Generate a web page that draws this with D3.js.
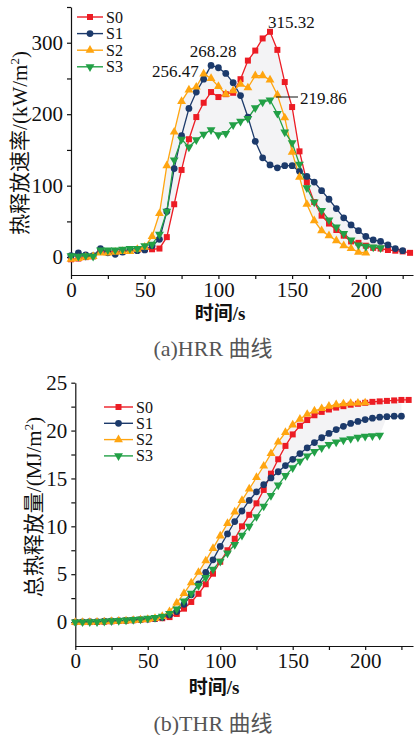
<!DOCTYPE html>
<html>
<head>
<meta charset="utf-8">
<script src="https://cdn.jsdelivr.net/npm/d3@7"></script>
<style>
  html, body { margin: 0; padding: 0; background: #fff; }
  svg { display: block; }
  .tick text { font-family: "Liberation Serif", "Times New Roman", serif; font-size: 21px; fill: #111; }
  .tick line, .domain { stroke: #111; stroke-width: 1.2px; }
  .series { fill: none; stroke-width: 1.3px; }
</style>
</head>
<body>
<svg id="chart" width="414" height="735"></svg>
<script>
// sample interval of both tests (s)
const stepSec = 5

const seriesNames = ['S0', 'S1', 'S2', 'S3']
const seriesColors = ['#ec1c24', '#1c3a6b', '#ffa510', '#22a046']

// heat release rate, kW/m2, one value every 5 s from t = 0
const hrrS0 = [-3, -2, 0, 1, 9, 8, 7, 8, 9, 10, 11, 11, 12, 28, 74, 122, 165, 196, 216, 231, 224, 228, 230, 249, 275, 289, 306, 315.32, 290, 245, 210, 148, 105, 77, 58, 47, 38, 30, 22, 20, 16, 13, 12, 10, 9, 8, 6]
const hrrS1 = [2, 6, 3, 2, 12, 6, 4, 7, 9, 9, 10, 16, 25, 64, 124, 170, 208, 231, 249, 268.28, 265, 257, 244, 226, 196, 162, 139, 129, 125, 128, 128, 120, 113, 105, 93, 81, 68, 55, 45, 37, 29, 24, 22, 17, 12, 9]
const hrrS2 = [-3, -2, 0, 1, 6, 6, 7, 8, 8, 11, 14, 29, 61, 128, 175, 218, 234, 238, 256.47, 250, 239, 228, 233, 242, 237, 254, 254, 248, 227, 195, 147, 112, 74, 51, 37, 30, 23, 16, 12, 7, 6]
const hrrS3 = [2, 1, 2, 1, 10, 10, 10, 11, 12, 12, 16, 18, 32, 64, 136, 165, 154, 164, 172, 178, 171, 173, 185, 190, 194, 209, 217, 219.86, 201, 175, 160, 130, 97, 77, 65, 52, 42, 33, 24, 17, 15, 14, 13]

// total heat release, MJ/m2
const thrS0 = [0, 0, 0, 0.01, 0.04, 0.08, 0.11, 0.15, 0.19, 0.24, 0.29, 0.34, 0.4, 0.52, 0.85, 1.4, 2.1, 2.95, 3.95, 5.05, 6.3, 7.5, 8.7, 10.0, 11.2, 12.4, 13.8, 15.5, 17.0, 18.4, 19.6, 20.5, 21.1, 21.6, 21.95, 22.2, 22.4, 22.55, 22.7, 22.8, 22.9, 23.0, 23.05, 23.1, 23.15, 23.2, 23.2]
const thrS1 = [0, 0.02, 0.04, 0.05, 0.09, 0.12, 0.14, 0.17, 0.22, 0.26, 0.31, 0.38, 0.48, 0.75, 1.1, 1.85, 2.85, 4.0, 5.2, 6.5, 7.9, 9.2, 10.5, 11.6, 12.7, 13.6, 14.35, 15.05, 15.7, 16.35, 17.0, 17.6, 18.2, 18.75, 19.25, 19.7, 20.1, 20.45, 20.75, 20.95, 21.15, 21.3, 21.4, 21.45, 21.5, 21.5]
const thrS2 = [-0.02, -0.03, -0.02, 0, 0.03, 0.06, 0.1, 0.13, 0.17, 0.22, 0.28, 0.38, 0.6, 1.1, 2.0, 3.0, 4.1, 5.2, 6.4, 7.7, 9.0, 10.3, 11.5, 12.7, 13.9, 15.1, 16.3, 17.6, 18.8, 19.8, 20.6, 21.2, 21.7, 22.05, 22.3, 22.55, 22.7, 22.8, 22.85, 22.88, 22.9]
const thrS3 = [0.01, 0.01, 0.02, 0.03, 0.07, 0.12, 0.16, 0.2, 0.25, 0.31, 0.38, 0.46, 0.6, 0.9, 1.35, 2.2, 3.0, 3.8, 4.65, 5.5, 6.35, 7.2, 8.1, 9.05, 10.0, 11.0, 12.1, 13.2, 14.3, 15.3, 16.1, 16.8, 17.35, 17.8, 18.2, 18.55, 18.8, 19.0, 19.15, 19.3, 19.4, 19.45, 19.5]

// tick labels
const timeTicks = [0, 50, 100, 150, 200]
const hrrTicks = [0, 100, 200, 300]
const thrTicks = [0, 5, 10, 15, 20, 25]

// peak labels on the HRR plot: [series index, value]
const hrrPeaks = [[0, 315.32], [1, 268.28], [2, 256.47], [3, 219.86]]

const svg = d3.select('#chart')
svg.append('rect').attr('width', 414).attr('height', 735).attr('fill', '#fff')

const serif = '"Liberation Serif", "Times New Roman", "Noto Sans CJK SC", serif'

const symbolFor = i => {
  if (i === 0) return d3.symbol(d3.symbolSquare, 36)
  if (i === 1) return d3.symbol(d3.symbolCircle, 36)
  return d3.symbol(d3.symbolTriangle, 34)
}
// S3 uses a downward triangle
const markTransform = (i, px, py) =>
  'translate(' + px + ',' + py + ')' + (i === 3 ? ' rotate(180)' : '')

const drawPanel = opt => {
  var x = d3.scaleLinear().domain(opt.xDomain).range(opt.xRange)
  var y = d3.scaleLinear().domain(opt.yDomain).range(opt.yRange)
  var g = svg.append('g')

  var data = opt.series.map(vals => vals.map((v, i) => ({ t: i * stepSec, v: v })))

  // grey band between the lowest and highest curve
  var n = d3.max(opt.series, s => s.length)
  var band = []
  for (var i = 0; i < n; i++) {
    var vs = opt.series.filter(s => i < s.length).map(s => s[i])
    if (vs.length > 1) band.push({ t: i * stepSec, lo: d3.min(vs), hi: d3.max(vs) })
  }
  g.append('path')
    .datum(band)
    .attr('fill', '#f3f3f5')
    .attr('d', d3.area().x(d => x(d.t)).y0(d => y(d.lo)).y1(d => y(d.hi)))

  // axes (minor ticks without labels)
  var xAxis = d3.axisBottom(x)
    .tickValues(d3.range(0, opt.xDomain[1], opt.xMinor))
    .tickFormat(d => opt.xTicks.includes(d) ? d : '')
    .tickSize(4).tickSizeOuter(0).tickPadding(3)
  g.append('g')
    .attr('transform', 'translate(0,' + opt.yRange[0] + ')')
    .call(xAxis)

  var yAxis = d3.axisLeft(y)
    .tickValues(d3.range(opt.yTicks[0], opt.yDomain[1] + 0.001, opt.yMinor))
    .tickFormat(d => opt.yTicks.includes(d) ? d : '')
    .tickSize(4).tickSizeOuter(0).tickPadding(4)
  g.append('g')
    .attr('transform', 'translate(' + opt.xRange[0] + ',0)')
    .call(yAxis)

  // lines then markers
  var line = d3.line().x(d => x(d.t)).y(d => y(d.v))
  data.forEach((pts, si) => {
    g.append('path')
      .datum(pts)
      .attr('class', 'series')
      .attr('stroke', seriesColors[si])
      .attr('d', line)
  })
  data.forEach((pts, si) => {
    g.selectAll('.m' + si)
      .data(pts)
      .enter().append('path')
        .attr('d', symbolFor(si))
        .attr('fill', seriesColors[si])
        .attr('transform', d => markTransform(si, x(d.t), y(d.v)))
  })

  // legend
  seriesNames.forEach((name, i) => {
    var ly = opt.legend.y + i * opt.legend.gap
    var lg = g.append('g')
    lg.append('line')
      .attr('x1', opt.legend.x).attr('x2', opt.legend.x + opt.legend.len)
      .attr('y1', ly).attr('y2', ly)
      .attr('stroke', seriesColors[i]).attr('stroke-width', 1.4)
    lg.append('path')
      .attr('d', symbolFor(i))
      .attr('fill', seriesColors[i])
      .attr('transform', markTransform(i, opt.legend.x + opt.legend.len / 2, ly))
    lg.append('text')
      .attr('x', opt.legend.x + opt.legend.len + 3)
      .attr('y', ly + 5.5)
      .attr('font-family', serif).attr('font-size', 16).attr('fill', '#111')
      .text(name)
  })

  // y title, rotated, with superscript 2
  var yt = g.append('text')
    .attr('transform', 'translate(' + opt.yTitle.x + ',' + opt.yTitle.y + ') rotate(-90)')
    .attr('text-anchor', 'middle')
    .attr('font-family', serif).attr('font-size', 21).attr('fill', '#111')
  yt.append('tspan').text(opt.yTitle.text)
  yt.append('tspan').attr('font-size', 13).attr('dy', -8).text('2')
  yt.append('tspan').attr('dy', 8).text(')')

  // x title and caption
  g.append('text')
    .attr('x', opt.xTitle.x).attr('y', opt.xTitle.y)
    .attr('text-anchor', 'middle')
    .attr('font-family', serif).attr('font-size', 19).attr('font-weight', 'bold').attr('fill', '#111')
    .text('时间/s')
  g.append('text')
    .attr('x', opt.caption.x).attr('y', opt.caption.y)
    .attr('text-anchor', 'middle')
    .attr('font-family', serif).attr('font-size', 22).attr('fill', '#555')
    .text(opt.caption.text)

  return { g: g, x: x, y: y }
}

var hrrPanel = drawPanel({
  series: [hrrS0, hrrS1, hrrS2, hrrS3],
  xDomain: [0, 232], xRange: [71, 413], xMinor: 25, xTicks: timeTicks,
  yDomain: [-25, 350], yRange: [275, 7], yMinor: 50, yTicks: hrrTicks,
  legend: { x: 77, y: 17, gap: 16.6, len: 26 },
  yTitle: { x: 27, y: 143, text: '热释放速率/(kW/m' },
  xTitle: { x: 220, y: 320 },
  caption: { x: 213, y: 356, text: '(a)HRR 曲线' }
})

drawPanel({
  series: [thrS0, thrS1, thrS2, thrS3],
  xDomain: [0, 233], xRange: [75.3, 413], xMinor: 25, xTicks: timeTicks,
  yDomain: [-2.5, 25], yRange: [646, 382.7], yMinor: 2.5, yTicks: thrTicks,
  legend: { x: 104, y: 407, gap: 16.3, len: 29 },
  yTitle: { x: 41, y: 507, text: '总热释放量/(MJ/m' },
  xTitle: { x: 214, y: 694 },
  caption: { x: 213, y: 731, text: '(b)THR 曲线' }
})

// peak values on the HRR plot
const hrrSeries = [hrrS0, hrrS1, hrrS2, hrrS3]
hrrPeaks.forEach(([si, v]) => {
  var t = hrrSeries[si].indexOf(v) * stepSec
  var px = hrrPanel.x(t), py = hrrPanel.y(v)
  var lab = hrrPanel.g.append('text')
    .attr('font-family', serif).attr('font-size', 17).attr('fill', '#111')
    .text(v.toFixed(2))
  if (si === 0) lab.attr('x', px - 2).attr('y', py - 4)
  if (si === 1) lab.attr('x', px + 2).attr('y', py - 8).attr('text-anchor', 'middle')
  if (si === 2) lab.attr('x', px - 5).attr('y', py + 3).attr('text-anchor', 'end')
  if (si === 3) {
    hrrPanel.g.append('line')
      .attr('x1', px + 6).attr('x2', px + 28)
      .attr('y1', py - 3).attr('y2', py - 3)
      .attr('stroke', '#111').attr('stroke-width', 1)
    lab.attr('x', px + 30).attr('y', py + 4)
  }
})
</script>
</body>
</html>
